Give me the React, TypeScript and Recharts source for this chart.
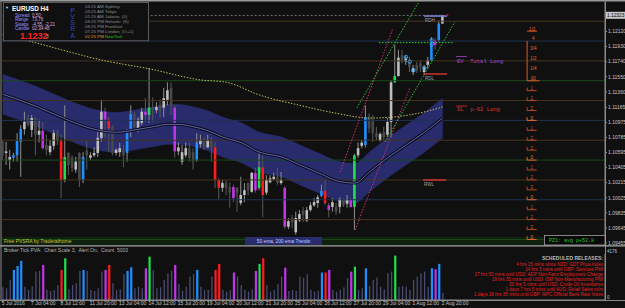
import React from 'react';
import { ComposedChart, Bar, Area, Line, Scatter, XAxis, YAxis, ReferenceLine } from 'recharts';

// EURUSD H4, 121 candles (5 Jul 2016 .. 2 Aug 2016 20:00)
const opens = [
  1.1073, 1.1059, 1.1050, 1.1053, 1.1056, 1.1073, 1.1089, 1.1103, 1.1088, 1.1103,
  1.1082, 1.1087, 1.1069, 1.1060, 1.1068, 1.1084, 1.1074, 1.1025, 1.1059, 1.1053,
  1.1038, 1.1059, 1.1025, 1.1062, 1.1053, 1.1056, 1.1059, 1.1078, 1.1111, 1.1101,
  1.1092, 1.1059, 1.1060, 1.1063, 1.1059, 1.1087, 1.1108, 1.1088, 1.1097, 1.1111,
  1.1107, 1.1117, 1.1113, 1.1119, 1.1116, 1.1126, 1.1141, 1.1116, 1.1061, 1.1048,
  1.1056, 1.1065, 1.1060, 1.1050, 1.1070, 1.1075, 1.1066, 1.1075, 1.1066, 1.1025,
  1.1015, 1.1021, 1.1016, 1.1016, 1.1015, 1.0996, 1.1006, 1.1021, 1.1010, 1.1034,
  1.1015, 1.1041, 1.1009, 1.1022, 1.1026, 1.1029, 1.1021, 1.1015, 1.0966, 1.0977,
  1.0959, 1.0974, 1.0986, 1.0974, 1.0987, 1.0993, 1.0996, 1.1005, 1.1011, 1.0993,
  1.0991, 1.0991, 1.0991, 1.1000, 1.0995, 1.1000, 1.0991, 1.1056, 1.1068, 1.1069,
  1.1104, 1.1101, 1.1084, 1.1075, 1.1085, 1.1082, 1.1098, 1.1148, 1.1156, 1.1182,
  1.1174, 1.1174, 1.1161, 1.1170, 1.1172, 1.1161, 1.1170, 1.1176, 1.1201, 1.1201,
  1.1222,
];
const highs = [
  1.1075, 1.1073, 1.1063, 1.1059, 1.1084, 1.1094, 1.1111, 1.1107, 1.1107, 1.1104,
  1.1101, 1.1098, 1.1082, 1.1075, 1.1088, 1.1088, 1.1082, 1.1119, 1.1060, 1.1056,
  1.1054, 1.1060, 1.1060, 1.1075, 1.1060, 1.1066, 1.1085, 1.1126, 1.1116, 1.1104,
  1.1094, 1.1065, 1.1072, 1.1069, 1.1089, 1.1119, 1.1111, 1.1104, 1.1116, 1.1128,
  1.1166, 1.1129, 1.1123, 1.1126, 1.1141, 1.1148, 1.1148, 1.1119, 1.1072, 1.1069,
  1.1072, 1.1072, 1.1065, 1.1084, 1.1082, 1.1079, 1.1082, 1.1079, 1.1073, 1.1027,
  1.1025, 1.1025, 1.1022, 1.1019, 1.1016, 1.1029, 1.1021, 1.1022, 1.1035, 1.1040,
  1.1060, 1.1056, 1.1031, 1.1031, 1.1034, 1.1040, 1.1035, 1.1017, 1.0977, 1.0981,
  1.0985, 1.0987, 1.0991, 1.0991, 1.0997, 1.1002, 1.1006, 1.1019, 1.1025, 1.0996,
  1.1002, 1.0996, 1.1003, 1.1002, 1.1006, 1.1002, 1.1058, 1.1072, 1.1075, 1.1119,
  1.1109, 1.1107, 1.1092, 1.1085, 1.1092, 1.1103, 1.1151, 1.1195, 1.1189, 1.1189,
  1.1182, 1.1180, 1.1170, 1.1174, 1.1176, 1.1170, 1.1180, 1.1205, 1.1204, 1.1226,
  1.1233,
];
const lows = [
  1.1050, 1.1044, 1.1038, 1.1048, 1.1048, 1.1029, 1.1082, 1.1092, 1.1079, 1.1056,
  1.1072, 1.1063, 1.1056, 1.1056, 1.1063, 1.1069, 1.1002, 1.1022, 1.1031, 1.1035,
  1.1034, 1.1016, 1.1021, 1.1038, 1.1050, 1.1054, 1.1054, 1.1073, 1.1078, 1.1060,
  1.1056, 1.1056, 1.1054, 1.1041, 1.1048, 1.1079, 1.1088, 1.1085, 1.1094, 1.1098,
  1.1097, 1.1098, 1.1109, 1.1103, 1.1104, 1.1119, 1.1107, 1.1053, 1.1056, 1.1044,
  1.1053, 1.1048, 1.1038, 1.1048, 1.1066, 1.1063, 1.1065, 1.1048, 1.1015, 1.1000,
  1.1010, 1.1006, 1.0990, 1.0997, 1.0985, 1.0993, 1.0997, 1.1006, 1.1009, 1.1009,
  1.1012, 1.0978, 1.1006, 1.1021, 1.1024, 1.1019, 1.1019, 1.0963, 1.0963, 1.0964,
  1.0956, 1.0972, 1.0972, 1.0972, 1.0985, 1.0991, 1.0990, 1.1003, 1.0993, 1.0978,
  1.0985, 1.0981, 1.0983, 1.0991, 1.0990, 1.0990, 1.0962, 1.1053, 1.1065, 1.1066,
  1.1084, 1.1073, 1.1075, 1.1073, 1.1075, 1.1079, 1.1079, 1.1147, 1.1155, 1.1172,
  1.1170, 1.1161, 1.1157, 1.1160, 1.1161, 1.1157, 1.1166, 1.1174, 1.1189, 1.1199,
  1.1222,
];
const closes = [
  1.1056, 1.1061, 1.1054, 1.1056, 1.1074, 1.1089, 1.1098, 1.1094, 1.1103, 1.1082,
  1.1087, 1.1065, 1.1063, 1.1068, 1.1084, 1.1075, 1.1025, 1.1054, 1.1044, 1.1040,
  1.1048, 1.1025, 1.1054, 1.1056, 1.1056, 1.1059, 1.1078, 1.1111, 1.1101, 1.1090,
  1.1059, 1.1063, 1.1065, 1.1056, 1.1088, 1.1108, 1.1092, 1.1101, 1.1111, 1.1107,
  1.1116, 1.1113, 1.1117, 1.1111, 1.1128, 1.1138, 1.1117, 1.1061, 1.1066, 1.1060,
  1.1065, 1.1053, 1.1048, 1.1072, 1.1075, 1.1066, 1.1075, 1.1066, 1.1025, 1.1015,
  1.1021, 1.1015, 1.1009, 1.1002, 1.1009, 1.1006, 1.1012, 1.1012, 1.1034, 1.1012,
  1.1041, 1.1006, 1.1025, 1.1027, 1.1029, 1.1022, 1.1025, 1.0966, 1.0973, 1.0972,
  1.0977, 1.0982, 1.0981, 1.0987, 1.0993, 1.0997, 1.1003, 1.1011, 1.0996, 1.0987,
  1.0997, 1.0985, 1.1001, 1.0993, 1.1001, 1.0991, 1.1056, 1.1065, 1.1072, 1.1104,
  1.1090, 1.1084, 1.1079, 1.1083, 1.1079, 1.1098, 1.1148, 1.1156, 1.1179, 1.1174,
  1.1179, 1.1167, 1.1166, 1.1163, 1.1167, 1.1167, 1.1176, 1.1197, 1.1195, 1.1222,
  1.1232,
];
const volumes = [
  1150, 1060, 1820, 2730, 3090, 3550, 1210, 910, 1270, 2580,
  2640, 3180, 910, 820, 910, 1360, 2730, 3790, 970, 1360,
  1520, 2640, 2730, 2640, 910, 820, 1060, 2580, 2730, 3180,
  1520, 910, 970, 2340, 2640, 2970, 1060, 1210, 1060, 2880,
  3940, 2730, 1060, 1150, 1820, 2430, 2670, 3180, 1460, 820,
  1210, 2120, 2340, 2730, 1210, 910, 910, 2120, 2730, 3280,
  910, 760, 910, 2490, 2120, 1360, 910, 760, 970, 2640,
  3280, 3790, 1360, 760, 910, 1460, 2120, 2940, 820, 910,
  820, 2120, 2030, 2340, 910, 760, 850, 2490, 2490, 2730,
  910, 760, 910, 1150, 1970, 2580, 3030, 910, 1060, 2880,
  1270, 1820, 2030, 1210, 970, 2430, 2580, 4030, 1210, 1270,
  1210, 910, 1820, 2120, 2430, 2580, 1210, 2880, 2790, 3280,
  670,
];
// PVSRA class per candle: n normal, b rising bull, m rising bear, g climax bull, r climax bear
const pvsra =
  'nnnbbbnnnnnmnnnnrgnnnnbnnnnnmrnnnnbbnnnmgnnnnnnmnnnnnbnnnnrrnnnmnnnnnmgrnnnnnmnnnnnnnnnbrmnnnnnmgnnbnnnnnnngnnnnnnnnnbmbn';

// 50 ema envelope (sampled bars)
const ema50Idx = [0, 9, 18, 24, 31, 36, 41, 45, 48, 52, 56, 60, 65, 70, 76, 81, 87, 91, 96, 100, 105, 110, 115, 120];
const ema50Val = [1.1133, 1.1118, 1.1100, 1.1090, 1.1085, 1.1088, 1.1092, 1.1095, 1.1095, 1.1092, 1.1087, 1.1079, 1.1072, 1.1060, 1.1054, 1.1044, 1.1032, 1.1024, 1.1021, 1.1035, 1.1053, 1.1069, 1.1085, 1.1103];
const bandUpper = [1.1158, 1.1143, 1.1125, 1.1115, 1.1110, 1.1113, 1.1117, 1.1120, 1.1120, 1.1117, 1.1112, 1.1104, 1.1097, 1.1085, 1.1079, 1.1069, 1.1057, 1.1049, 1.1046, 1.1060, 1.1078, 1.1094, 1.1110, 1.1128];
const bandLower = [1.1108, 1.1093, 1.1075, 1.1065, 1.1060, 1.1063, 1.1067, 1.1070, 1.1070, 1.1067, 1.1062, 1.1054, 1.1047, 1.1035, 1.1029, 1.1019, 1.1007, 1.0999, 1.0996, 1.1010, 1.1028, 1.1044, 1.1060, 1.1078];

// 200 ema (sampled bars)
const ema200Idx = [0, 8, 16, 27, 40, 54, 61, 70, 81, 91, 100, 106, 111, 117, 120];
const ema200Val = [1.1208, 1.1199, 1.1189, 1.1176, 1.1165, 1.1151, 1.1148, 1.1132, 1.1119, 1.1109, 1.1103, 1.1104, 1.1107, 1.1113, 1.1117];

const priceTicks = [1.1212, 1.1193, 1.1174, 1.1155, 1.1136, 1.11165, 1.10975, 1.10785, 1.10595, 1.10405, 1.10215, 1.10025, 1.09835, 1.09645, 1.09455];
const priceLabels = ['1.12120', '1.11930', '1.11740', '1.11550', '1.11360', '1.11165', '1.10975', '1.10785', '1.10595', '1.10405', '1.10215', '1.10025', '1.09835', '1.09645', '1.09455'];

const gridLevels = [1.1225, 1.12, 1.1175, 1.115, 1.1125, 1.11, 1.1075, 1.105, 1.1025, 1.1, 1.0975, 1.095];
const gridColors = ['#43361f', '#1f3252', '#43361f', '#1b491b', '#43361f', '#1f3252', '#43361f', '#1b491b', '#43361f', '#1f3252', '#43361f', '#1b491b'];

const dateTicks = [0, 8, 16, 24, 32, 40, 48, 56, 64, 72, 80, 88, 96, 104, 112, 120];
const dateLabels = ['5 Jul 2016', '7 Jul 04:00', '8 Jul 12:00', '11 Jul 20:00', '13 Jul 04:00', '14 Jul 12:00', '15 Jul 20:00', '19 Jul 04:00', '20 Jul 12:00', '21 Jul 20:00', '25 Jul 04:00', '26 Jul 12:00', '27 Jul 20:00', '29 Jul 04:00', '1 Aug 12:00', '2 Aug 20:00'];

// channel lines [bar, price] -> [bar, price]
const channelFrom = [[92.0, 1.1035], [96.1, 1.0962], [96.6, 1.1116], [104.3, 1.1073]];
const channelTo = [[106.4, 1.1216], [111.1, 1.1142], [113.3, 1.1248], [123.3, 1.1224]];
const channelColors = ['#d0307a', '#d0307a', '#2ec22e', '#2ec22e'];

const ringBars = [110, 111, 112, 115, 117, 117];
const ringPrices = [1.118, 1.1174, 1.1163, 1.1166, 1.1201, 1.1196];

const bracketLevels = [1.12, 1.11875, 1.1175, 1.11625, 1.115];
const bracketLabels = ['4', '3/4', '1/2', '1/4', '00'];
const ladderLevels = [1.11375, 1.1125, 1.11125, 1.11, 1.10875, 1.1075, 1.10625, 1.105, 1.10375, 1.1025, 1.10125, 1.1, 1.09875, 1.0975, 1.09625, 1.095];
const ladderLabels = ['1', '2', '3', '0', '1', '2', '3', '0', '1', '2', '3', '0', '1', '2', '3', '0'];

const releases = [
  '4 hrs 15 mins since NZD: GDT Price Index',
  '14 hrs 5 mins until GBP: Services PMI',
  '17 hrs 50 mins until USD: ADP Non-Farm Employment Change',
  '19 hrs 35 mins until USD: ISM Non-Manufacturing PMI',
  '20 hrs 5 mins until USD: Crude Oil Inventories',
  '1 days 7 hrs 5 mins until AUD: Retail Sales m/m',
  '1 days 16 hrs 35 mins until GBP: MPC Official Bank Rate Votes',
];
const sessions = [
  ['04:25 AM', 'Sydney'],
  ['03:25 AM', 'Tokyo'],
  ['01:25 AM', 'Jakarta  (0)'],
  ['09:25 PM', 'Helsinki  (S)'],
  ['08:25 PM', 'Frankfurt'],
  ['07:25 PM', 'London  (O+1)'],
  ['02:25 PM', 'NewYork'],
];

const FONT = '"Liberation Sans", Arial, sans-serif';
const MONO = '"Liberation Mono", "DejaVu Sans Mono", monospace';
const COLORS: Record<string, string> = { b: '#1e8fff', m: '#c234e8', r: '#ff1c1c', g: '#1ee04a' };
const X_DOMAIN = [-0.2, 164.25];

const rows = opens.map((o, i) => ({ i, o, h: highs[i], l: lows[i], c: closes[i], v: volumes[i], t: pvsra[i] }));
const bandRows = ema50Idx.map((i, k) => ({ i, lo: bandLower[k], hi: bandUpper[k], mid: ema50Val[k] }));
const slowRows = ema200Idx.map((i, k) => ({ i, e: ema200Val[k] }));
const ringRows = ringBars.map((i, k) => ({ i, p: ringPrices[k] }));

const Candle = (props: any) => {
  const { x, y, width, height, payload } = props;
  if (!payload || x == null || y == null) return null;
  const { o, h, l, c, t } = payload;
  const top = Math.min(y, y + height);
  const bot = Math.max(y, y + height);
  const k = h === l ? 0 : (bot - top) / (h - l);
  const yo = top + (h - o) * k;
  const yc = top + (h - c) * k;
  const cx = x + width / 2;
  const bull = c >= o;
  const fill = COLORS[t] || (bull ? '#bebebe' : '#4a4a4a');
  const wick = bull ? '#909090' : '#5a5a5a';
  return (
    <g>
      <line x1={cx} x2={cx} y1={top} y2={bot} stroke={wick} strokeWidth={1} />
      <rect x={cx - 1.3} y={Math.min(yo, yc)} width={2.6} height={Math.max(Math.abs(yc - yo), 0.8)} fill={fill} />
    </g>
  );
};

const VolBar = (props: any) => {
  const { x, y, width, height, payload } = props;
  if (!payload || x == null) return null;
  const col = COLORS[payload.t];
  const w = col ? 2.2 : 1.3;
  return <rect x={x + width / 2 - w / 2} y={y} width={w} height={Math.max(height, 0)} fill={col || '#4a4a72'} />;
};

const Ring = (props: any) => (
  <circle cx={props.cx} cy={props.cy} r={1.7} fill="none" stroke="#2ea6ff" strokeWidth={0.9} />
);

const DateTick = ({ x, y, payload }: any) => (
  <text x={x - 1} y={y + 2} fill="#c4c4c4" fontSize={5} fontFamily={FONT}>
    {dateLabels[dateTicks.indexOf(payload.value)]}
  </text>
);

export default function App() {
  const lbl = (value: string, fill: string) => ({ value, position: 'top' as const, fill, fontSize: 4.5, offset: 0.6, fontFamily: FONT });
  return (
    <div style={{ position: 'fixed', left: 0, top: 0, width: 625, height: 308, background: '#101010', overflow: 'hidden' }}>
      <svg width={625} height={308} style={{ position: 'absolute', left: 0, top: 0 }}>
        <rect x={2} y={237} width={543} height={8} fill="#0f220f" />
      </svg>

      <div style={{ position: 'absolute', left: 0, top: 0 }}>
        <ComposedChart width={625} height={247} data={rows} margin={{ top: 2, right: 0, bottom: 2, left: 2 }}>
          <XAxis type="number" dataKey="i" domain={X_DOMAIN} allowDataOverflow hide />
          <YAxis
            orientation="right"
            type="number"
            width={20}
            domain={[1.0943, 1.12492]}
            allowDataOverflow
            ticks={priceTicks}
            interval={0}
            tickFormatter={(v: number) => priceLabels[priceTicks.indexOf(v)]}
            tick={{ fill: '#c8c8c8', fontSize: 5, fontFamily: FONT }}
            tickSize={2}
            tickMargin={1}
            tickLine={{ stroke: '#8a8a8a' }}
            axisLine={{ stroke: '#8a8a8a' }}
          />
          {gridLevels.map((p, k) => (
            <ReferenceLine key={'g' + k} y={p} stroke={gridColors[k]} strokeWidth={1} />
          ))}
          <Area data={bandRows} dataKey={(d: any) => [d.lo, d.hi]} type="monotone" stroke="#2f3278" strokeWidth={0.5} fill="#282b6c" fillOpacity={1} isAnimationActive={false} />
          <Line data={bandRows} dataKey="mid" type="monotone" stroke="#0a0a26" strokeWidth={3} dot={false} isAnimationActive={false} />
          <Line data={bandRows} dataKey="mid" type="monotone" stroke="#8f95cc" strokeWidth={0.7} dot={false} isAnimationActive={false} />
          <Line data={slowRows} dataKey="e" type="monotone" stroke="#c8c860" strokeWidth={1} strokeDasharray="1.4 1.6" dot={false} isAnimationActive={false} />

          {channelFrom.map((a, k) => (
            <ReferenceLine key={'ch' + k} segment={[{ x: a[0], y: a[1] }, { x: channelTo[k][0], y: channelTo[k][1] }]} stroke={channelColors[k]} strokeWidth={1} strokeDasharray="1.5 1.5" />
          ))}
          <ReferenceLine segment={[{ x: 0, y: 1.12323 }, { x: 120, y: 1.12323 }]} stroke="#6c6c6c" strokeDasharray="2 2" />
          <ReferenceLine segment={[{ x: 102.6, y: 1.1198 }, { x: 122.8, y: 1.1198 }]} stroke="#34c834" strokeDasharray="1.5 1.5" />
          <ReferenceLine segment={[{ x: 114.9, y: 1.12315 }, { x: 121.2, y: 1.12315 }]} stroke="#7e7ed0" strokeWidth={1.6} />
          <ReferenceLine segment={[{ x: 114.9, y: 1.11585 }, { x: 121.2, y: 1.11585 }]} stroke="#e83838" strokeWidth={1.3} />
          <ReferenceLine segment={[{ x: 114.6, y: 1.10249 }, { x: 120.9, y: 1.10249 }]} stroke="#e83838" strokeWidth={1.3} />

          {/* quarter ladder */}
          <ReferenceLine segment={[{ x: 143, y: 1.12125 }, { x: 145.7, y: 1.12125 }]} stroke="#e05a22" label={lbl('1/2', '#e86a30')} />
          <ReferenceLine segment={[{ x: 143, y: 1.12 }, { x: 143, y: 1.115 }]} stroke="#e05a22" />
          <ReferenceLine segment={[{ x: 143, y: 1.115 }, { x: 146.4, y: 1.115 }]} stroke="#e05a22" />
          {bracketLevels.map((p, k) => (
            <ReferenceLine key={'bk' + k} segment={[{ x: 143.2, y: p }, { x: 146.2, y: p }]} stroke="none" label={lbl(bracketLabels[k], '#e86a30')} />
          ))}
          {ladderLevels.map((p, k) => (
            <ReferenceLine key={'lh' + k} segment={[{ x: 143, y: p }, { x: 145.6, y: p }]} stroke={ladderLabels[k] === '0' ? '#e8682a' : '#b24a26'} label={lbl(ladderLabels[k], ladderLabels[k] === '0' ? '#f07a34' : '#c85a2c')} />
          ))}
          {ladderLevels.map((p, k) => (
            <ReferenceLine key={'lv' + k} segment={[{ x: 143, y: p }, { x: 143, y: p + 0.0004 }]} stroke={ladderLabels[k] === '0' ? '#e8682a' : '#b24a26'} />
          ))}

          <Bar dataKey={(d: any) => [d.l, d.h]} barSize={3} shape={<Candle />} isAnimationActive={false} />
          <Scatter data={ringRows} dataKey="p" shape={<Ring />} isAnimationActive={false} />
        </ComposedChart>
      </div>

      <div style={{ position: 'absolute', left: 0, top: 246 }}>
        <ComposedChart width={625} height={62} data={rows} margin={{ top: 8, right: 0, bottom: 0, left: 2 }}>
          <XAxis
            type="number"
            dataKey="i"
            domain={X_DOMAIN}
            allowDataOverflow
            ticks={dateTicks}
            interval={0}
            height={8}
            tick={<DateTick />}
            tickSize={2}
            tickMargin={1}
            tickLine={{ stroke: '#8a8a8a' }}
            axisLine={{ stroke: '#8a8a8a' }}
          />
          <YAxis orientation="right" width={20} domain={[0, 4176]} allowDataOverflow tick={false} tickLine={false} axisLine={{ stroke: '#8a8a8a' }} />
          <Bar dataKey="v" barSize={2} shape={<VolBar />} isAnimationActive={false} />
        </ComposedChart>
      </div>

      <svg width={625} height={308} style={{ position: 'absolute', left: 0, top: 0, pointerEvents: 'none' }} fontFamily={FONT}>
        {/* frame */}
        <line x1={0} x2={625} y1={0.8} y2={0.8} stroke="#9a9a9a" strokeWidth={1.6} />
        <line x1={1} x2={1} y1={0} y2={301} stroke="#8a8a8a" strokeWidth={1} />
        <line x1={605.5} x2={605.5} y1={0} y2={301} stroke="#8a8a8a" strokeWidth={1} />
        <line x1={0} x2={625} y1={245.8} y2={245.8} stroke="#a8a8a8" strokeWidth={1.2} />
        <line x1={0} x2={625} y1={300.5} y2={300.5} stroke="#8a8a8a" strokeWidth={1} />

        {/* info panel */}
        <rect x={3.5} y={2.5} width={145} height={38.3} fill="#101010" stroke="#5c5c5c" />
        <text x={5} y={8.5} fontSize={4} fill="#d0d0d0">▼</text>
        <text x={12} y={10.8} fontSize={6.4} fontWeight="bold" fill="#ffffff">EURUSD</text>
        <text x={40.5} y={10.8} fontSize={6.4} fontWeight="bold" fill="#ffffff">H4</text>
        {['Spread', 'Range', 'Swaps', 'Candle'].map((s, k) => (
          <text key={s} x={15} y={16.6 + k * 4.5} fontSize={4.5} fill="#9f95ff">{s}</text>
        ))}
        {['0.50', '73.76', '-4.55, -2.21', '02:34:48'].map((s, k) => (
          <text key={s} x={32} y={16.6 + k * 4.5} fontSize={4.5} fill="#d8a8e0">{s}</text>
        ))}
        <text x={20} y={38.5} fontSize={9} fontWeight="bold" fill="#ff2424">1.1232</text>
        <text x={46} y={37.5} fontSize={5} fill="#a8a8a8">3</text>
        {['P', 'V', 'S', 'R', 'A'].map((s, k) => (
          <text key={s} x={70.5} y={12.5 + k * 6.3} fontSize={6.5} fill="#2a4ad8">{s}</text>
        ))}
        {sessions.map((s, k) => (
          <g key={s[1]}>
            <text x={85} y={7.6 + k * 5.1} fontSize={4.4} fill={k === 6 ? '#e09a20' : '#8c8c8c'}>{s[0]}</text>
            <text x={105} y={7.6 + k * 5.1} fontSize={4.4} fill={k === 6 ? '#22c022' : '#8c8c8c'} style={{ whiteSpace: 'pre' }}>{s[1]}</text>
          </g>
        ))}

        {/* chart annotations */}
        <text x={446} y={17.5} fontSize={6} fill="#ff2020">*</text>
        <text x={425} y={22} fontSize={4.5} fill="#a0a0a0">RDH</text>
        <text x={425} y={79.5} fontSize={4.5} fill="#a0a0a0">RDL</text>
        <text x={424} y={185.5} fontSize={4.5} fill="#a0a0a0">RWL</text>
        <line x1={456} x2={467} y1={56.5} y2={56.5} stroke="#a040c8" strokeWidth={0.8} />
        <text x={457} y={63} fontSize={5.5} fontFamily={MONO} fill="#a848d0" style={{ whiteSpace: 'pre' }}>EV  Total Long</text>
        <line x1={456} x2={467} y1={106} y2={106} stroke="#e23030" strokeWidth={0.8} />
        <text x={457} y={111} fontSize={5.5} fontFamily={MONO} fill="#e23030" style={{ whiteSpace: 'pre' }}>SL  p-62 Long</text>

        <rect x={544.5} y={235.5} width={60.5} height={9.5} fill="#0a0a0a" stroke="#a0a0a0" strokeWidth={0.8} />
        <text x={549} y={242.3} fontSize={5} fontFamily={MONO} fill="#22c822">PZ1: avg p+52.8</text>

        <text x={4} y={242.6} fontSize={5} fill="#c8c83a">Free PVSRA by Traderathome</text>
        <rect x={245} y={237} width={77} height={7.8} fill="#2a2d6d" />
        <text x={283.5} y={242.8} fontSize={4.8} fill="#c8ccff" textAnchor="middle">50 ema, 200 ema Trends</text>

        {/* price marker */}
        <rect x={606} y={11.8} width={19} height={7} fill="#c8c8c8" />
        <text x={607} y={17.2} fontSize={4.8} fill="#000">1.12323</text>

        {/* volume window texts */}
        <text x={4} y={251.8} fontSize={5} fill="#b4b4b4" style={{ whiteSpace: 'pre' }}>Broker Tick PVA:  Chart Scale 3,  Alert On,  Count  5003</text>
        <text x={607} y={253} fontSize={4.5} fill="#c0c0c0">4176</text>
        <text x={607} y={299} fontSize={4.5} fill="#c0c0c0">0</text>
        <text x={603} y={259.6} fontSize={5} fill="#b8b8b8" textAnchor="end" fontWeight="bold">SCHEDULED RELEASES:</text>
        {releases.map((s, k) => (
          <text key={s} x={603} y={265.6 + k * 5.05} fontSize={4.6} fill="#ea2020" textAnchor="end">{s}</text>
        ))}
      </svg>
    </div>
  );
}
